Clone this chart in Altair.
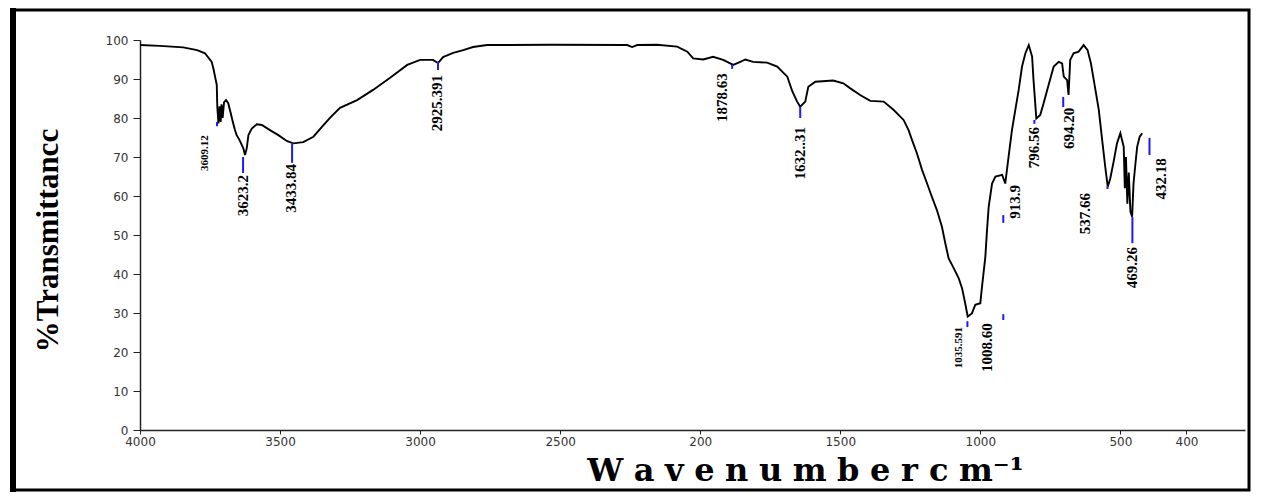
import altair as alt
import pandas as pd

# ---- spectrum ----
wavenumber = [4000, 3929, 3846, 3796, 3768, 3744, 3738, 3726, 3724, 3720, 3716, 3712, 3709, 3705,
              3700, 3693, 3685, 3676, 3669, 3661, 3655, 3645, 3631, 3625, 3619, 3613, 3601, 3583,
              3565, 3536, 3506, 3476, 3453, 3417, 3381, 3345, 3321, 3286, 3225, 3168, 3107, 3046,
              3000, 2954, 2936, 2918, 2882, 2846, 2811, 2761, 2536, 2261, 2243, 2225, 2154, 2082,
              2046, 2025, 1989, 1954, 1918, 1882, 1857, 1839, 1811, 1761, 1725, 1689, 1671, 1654,
              1643, 1625, 1614, 1589, 1525, 1489, 1464, 1429, 1393, 1345, 1310, 1274, 1256, 1244,
              1226, 1208, 1190, 1173, 1155, 1137, 1125, 1113, 1095, 1077, 1065, 1054, 1045, 1030,
              1018, 1000, 994, 982, 976, 970, 958, 946, 922, 911, 899, 887, 875, 863, 851, 839,
              827, 815, 810, 800, 786, 774, 756, 738, 720, 708, 702, 690, 685, 679, 667, 649, 631,
              617, 605, 589, 577, 565, 554, 545, 536, 524, 512, 500, 488, 484, 480, 475, 470, 464,
              458, 453, 446, 440, 431, 422]
transmittance = [98.7, 98.5, 98.1, 97.4, 96.6, 94.4, 92.7, 88.5, 82.9, 78.6, 83.0, 79.0, 83.5, 80.0,
                 84.0, 84.6, 83.8, 81.2, 79.1, 76.9, 75.6, 74.4, 72.2, 70.5, 72.2, 75.6, 77.3, 78.4,
                 78.2, 76.9, 75.6, 74.1, 73.5, 73.8, 75.2, 78.2, 80.1, 82.6, 84.6, 87.2, 90.3, 93.6,
                 94.9, 94.9, 94.1, 95.6, 96.7, 97.4, 98.2, 98.7, 98.8, 98.7, 98.2, 98.7, 98.8, 98.3,
                 97.0, 95.3, 95.0, 95.7, 94.9, 93.6, 94.4, 95.0, 94.4, 94.2, 93.2, 90.6, 86.8, 84.2,
                 82.9, 84.2, 88.0, 89.3, 89.6, 88.9, 87.6, 85.9, 84.4, 84.2, 82.1, 79.5, 76.9, 74.4,
                 70.9, 66.7, 63.2, 59.8, 56.4, 52.1, 47.9, 44.0, 41.5, 38.9, 36.3, 32.5, 29.1, 29.9,
                 32.1, 32.5, 36.7, 44.4, 51.3, 57.3, 63.2, 65.0, 65.4, 63.2, 70.1, 76.9, 82.1, 87.2,
                 93.2, 96.6, 98.7, 95.7, 89.7, 79.9, 80.8, 83.8, 88.5, 93.2, 94.4, 94.0, 90.6, 89.7,
                 85.9, 94.9, 96.6, 97.0, 98.7, 97.4, 94.0, 87.2, 82.1, 74.4, 67.5, 62.4, 64.5, 68.8,
                 73.5, 76.1, 72.6, 62.0, 70.0, 58.0, 66.0, 56.0, 54.7, 63.2, 68.4, 72.6, 75.2, 76.1]

# ---- peak labels (anchor = top of the vertical label) ----
peak_labels = ["3623.2", "3433.84", "2925.391", "1878.63", "1632..31", "1008.60",
               "913.9", "796.56", "694.20", "537.66", "469.26", "432.18"]
peak_label_wn = [3632, 3461, 2939, 1921, 1643, 975, 875, 807, 682, 625, 457, 354]
peak_label_top = [65.4, 68.2, 91.0, 91.5, 77.7, 27.4, 62.8, 77.7, 82.6, 60.8, 46.9, 69.7]

small_labels = ["3609.12", "1035.591"]
small_label_wn = [3768, 1075]
small_label_top = [75.6, 26.4]

# ---- blue peak markers ----
marker_wn = [3725, 3632, 3457, 2936, 1886, 1643, 1046, 918, 918, 807, 704, 546, 457, 396]
marker_hi = [79.0, 70.0, 73.6, 94.4, 93.6, 82.8, 27.9, 29.7, 55.1, 79.5, 85.4, 62.5, 54.6, 74.9]
marker_lo = [77.9, 65.9, 68.5, 92.3, 92.6, 80.0, 26.4, 28.2, 53.1, 78.5, 82.8, 61.8, 47.9, 70.5]

# ---- axis ticks ----
x_tick_values = [4000, 3500, 3000, 2500, 2000, 1500, 1000, 500, 264]
x_tick_labels = ["4000", "3500", "3000", "2500", "200", "1500", "1000", "500", "400"]
y_tick_values = [0, 10, 20, 30, 40, 50, 60, 70, 80, 90, 100]

assert len(wavenumber) == len(transmittance)

spec_df = pd.DataFrame({"wn": wavenumber, "T": transmittance})
lab_df = pd.DataFrame({"wn": peak_label_wn, "T": peak_label_top, "label": peak_labels})
slab_df = pd.DataFrame({"wn": small_label_wn, "T": small_label_top, "label": small_labels})
mk_df = pd.DataFrame({"wn": marker_wn, "hi": marker_hi, "lo": marker_lo})

label_expr = ""
for v, t in zip(x_tick_values, x_tick_labels):
    label_expr += f"datum.value == {v} ? '{t}' : "
label_expr += "''"

W, H = 1105, 390
x_scale = alt.Scale(domain=[4000, 55], nice=False, zero=False)
y_scale = alt.Scale(domain=[0, 100], nice=False, zero=True)

sp = "\u2004"
x_title = sp.join("Wavenumber") + " " + sp.join("cm") + "\u207b\u00b9"

x_axis = alt.Axis(values=x_tick_values, labelExpr=label_expr, grid=False,
                  labelFont="DejaVu Sans", labelFontSize=12, labelColor="#333",
                  labelPadding=2, labelOverlap=False, labelFlush=False,
                  tickSize=4, tickColor="#222", domainColor="#222", domainWidth=1.5,
                  title=x_title, titleFont="DejaVu Serif", titleFontWeight="bold",
                  titleFontSize=32, titleColor="black", titleX=665, titleY=40,
                  titleAlign="center", titleBaseline="middle")
y_axis = alt.Axis(values=y_tick_values, tickCount=11, grid=False, labelOverlap=False,
                  labelFont="DejaVu Sans", labelFontSize=12, labelColor="#333",
                  labelPadding=5, tickSize=7, tickColor="#222",
                  domainColor="#222", domainWidth=1.5,
                  title="%Transmittancc", titleFont="Liberation Serif", titleFontWeight="bold",
                  titleFontSize=31, titleColor="black", titleAngle=270,
                  titleX=-92, titleY=200, titleAlign="center", titleBaseline="middle")

line = alt.Chart(spec_df).mark_line(color="black", strokeWidth=1.9, interpolate="linear").encode(
    x=alt.X("wn:Q", scale=x_scale, axis=x_axis),
    y=alt.Y("T:Q", scale=y_scale, axis=y_axis),
    order=alt.Order("wn:Q", sort="descending"),
)

markers = alt.Chart(mk_df).mark_rule(color="#1a1aff", strokeWidth=2).encode(
    x=alt.X("wn:Q", scale=x_scale, axis=x_axis),
    y=alt.Y("hi:Q", scale=y_scale, axis=y_axis),
    y2="lo:Q",
)

labels = alt.Chart(lab_df).mark_text(
    angle=270, align="right", baseline="middle", font="Liberation Serif",
    fontWeight="bold", fontSize=15, color="black"
).encode(
    x=alt.X("wn:Q", scale=x_scale, axis=x_axis),
    y=alt.Y("T:Q", scale=y_scale, axis=y_axis),
    text="label:N",
)

slabels = alt.Chart(slab_df).mark_text(
    angle=270, align="right", baseline="middle", font="Liberation Serif",
    fontWeight="bold", fontSize=11, color="black"
).encode(
    x=alt.X("wn:Q", scale=x_scale, axis=x_axis),
    y=alt.Y("T:Q", scale=y_scale, axis=y_axis),
    text="label:N",
)

frame = alt.Chart(alt.Data(values=[{}])).mark_rect(
    filled=False, stroke="black", strokeWidth=3
).encode(
    x=alt.value(-127), x2=alt.value(1109), y=alt.value(-30), y2=alt.value(450)
)
left_bar = alt.Chart(alt.Data(values=[{}])).mark_rule(color="black", strokeWidth=6).encode(
    x=alt.value(-127), y=alt.value(-32), y2=alt.value(452)
)

chart = alt.layer(line, markers, labels, slabels, frame, left_bar).properties(
    width=W, height=H, background="white",
    autosize=alt.AutoSizeParams(type="none"),
    padding={"left": 132, "top": 32, "right": 8, "bottom": 62},
).configure_view(stroke=None, strokeWidth=0)

chart.save("out.html", embed_options={"renderer": "svg", "actions": False})
